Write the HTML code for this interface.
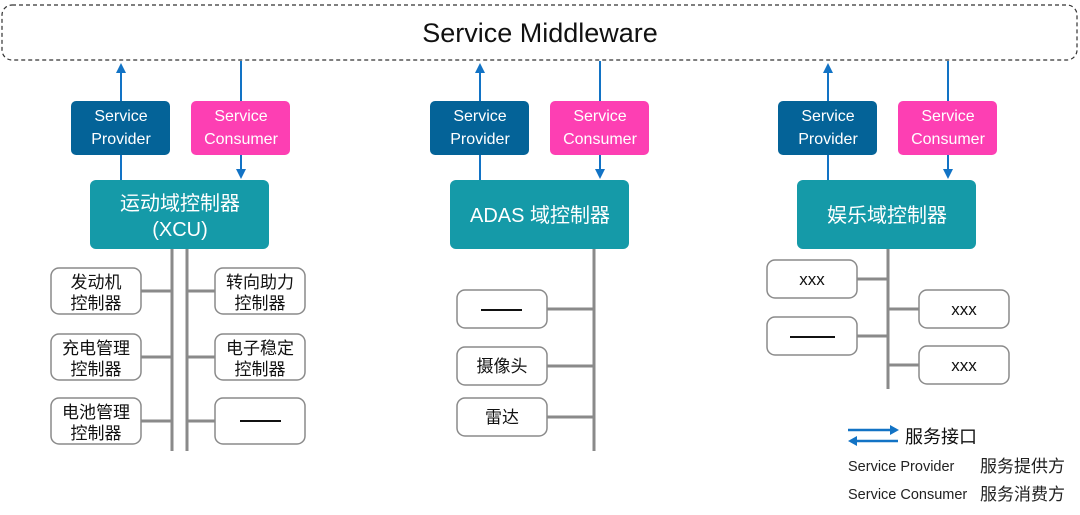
<!DOCTYPE html>
<html><head><meta charset="utf-8"><style>
html,body{margin:0;padding:0;background:#fff;width:1080px;height:515px;overflow:hidden}
text{font-family:"Liberation Sans","Noto Sans CJK SC",sans-serif}
</style></head><body>
<svg width="1080" height="515" viewBox="0 0 1080 515" xmlns="http://www.w3.org/2000/svg">
<defs>
<marker id="a" markerWidth="10" markerHeight="10" refX="5" refY="5" orient="auto" markerUnits="userSpaceOnUse"><path d="M0,0 L10,5 L0,10 z" fill="#1273c5"/></marker>
</defs>
<rect x="2" y="5" width="1075" height="55" rx="10" fill="#fff" stroke="#333" stroke-width="1.2" stroke-dasharray="4,3"/>
<text x="540" y="42" font-size="27" text-anchor="middle" fill="#111">Service Middleware</text>

<g stroke="#1273c5" stroke-width="2" fill="none">
<line x1="121" y1="101" x2="121" y2="68" marker-end="url(#a)"/><line x1="121" y1="155" x2="121" y2="180"/>
<line x1="241" y1="61" x2="241" y2="101"/><line x1="241" y1="155" x2="241" y2="174" marker-end="url(#a)"/>
<line x1="480" y1="101" x2="480" y2="68" marker-end="url(#a)"/><line x1="480" y1="155" x2="480" y2="180"/>
<line x1="600" y1="61" x2="600" y2="101"/><line x1="600" y1="155" x2="600" y2="174" marker-end="url(#a)"/>
<line x1="828" y1="101" x2="828" y2="68" marker-end="url(#a)"/><line x1="828" y1="155" x2="828" y2="180"/>
<line x1="948" y1="61" x2="948" y2="101"/><line x1="948" y1="155" x2="948" y2="174" marker-end="url(#a)"/>
</g>

<g font-size="16" fill="#fff" text-anchor="middle">
<rect x="71" y="101" width="99" height="54" rx="5" fill="#046398"/><text x="121" y="121">Service</text><text x="121" y="144">Provider</text>
<rect x="191" y="101" width="99" height="54" rx="5" fill="#fd3fb3"/><text x="241" y="121">Service</text><text x="241" y="144">Consumer</text>
<rect x="430" y="101" width="99" height="54" rx="5" fill="#046398"/><text x="480" y="121">Service</text><text x="480" y="144">Provider</text>
<rect x="550" y="101" width="99" height="54" rx="5" fill="#fd3fb3"/><text x="600" y="121">Service</text><text x="600" y="144">Consumer</text>
<rect x="778" y="101" width="99" height="54" rx="5" fill="#046398"/><text x="828" y="121">Service</text><text x="828" y="144">Provider</text>
<rect x="898" y="101" width="99" height="54" rx="5" fill="#fd3fb3"/><text x="948" y="121">Service</text><text x="948" y="144">Consumer</text>
</g>

<g fill="#159aa8">
<rect x="90" y="180" width="179" height="69" rx="6"/>
<rect x="450" y="180" width="179" height="69" rx="6"/>
<rect x="797" y="180" width="179" height="69" rx="6"/>
</g>
<g font-size="20" fill="#fff" text-anchor="middle">
<text x="180" y="210">运动域控制器</text><text x="180" y="236">(XCU)</text>
<text x="540" y="222">ADAS 域控制器</text>
<text x="887" y="222">娱乐域控制器</text>
</g>

<g stroke="#8a8a8a" stroke-width="3" fill="none">
<line x1="172" y1="249" x2="172" y2="451"/><line x1="187" y1="249" x2="187" y2="451"/>
<line x1="141" y1="291" x2="172" y2="291"/><line x1="141" y1="357" x2="172" y2="357"/><line x1="141" y1="421" x2="172" y2="421"/>
<line x1="187" y1="291" x2="215" y2="291"/><line x1="187" y1="357" x2="215" y2="357"/><line x1="187" y1="421" x2="215" y2="421"/>
<line x1="594" y1="249" x2="594" y2="451"/>
<line x1="547" y1="309" x2="594" y2="309"/><line x1="547" y1="366" x2="594" y2="366"/><line x1="547" y1="417" x2="594" y2="417"/>
<line x1="888" y1="249" x2="888" y2="389"/>
<line x1="857" y1="279" x2="888" y2="279"/><line x1="857" y1="336" x2="888" y2="336"/>
<line x1="888" y1="309" x2="919" y2="309"/><line x1="888" y1="365" x2="919" y2="365"/>
</g>

<g fill="#fff" stroke="#8a8a8a" stroke-width="1.5">
<rect x="51" y="268" width="90" height="46" rx="8"/><rect x="51" y="334" width="90" height="46" rx="8"/><rect x="51" y="398" width="90" height="46" rx="8"/>
<rect x="215" y="268" width="90" height="46" rx="8"/><rect x="215" y="334" width="90" height="46" rx="8"/><rect x="215" y="398" width="90" height="46" rx="8"/>
<rect x="457" y="290" width="90" height="38" rx="8"/><rect x="457" y="347" width="90" height="38" rx="8"/><rect x="457" y="398" width="90" height="38" rx="8"/>
<rect x="767" y="260" width="90" height="38" rx="8"/><rect x="767" y="317" width="90" height="38" rx="8"/>
<rect x="919" y="290" width="90" height="38" rx="8"/><rect x="919" y="346" width="90" height="38" rx="8"/>
</g>
<g font-size="17" fill="#111" text-anchor="middle">
<text x="96" y="288">发动机</text><text x="96" y="309">控制器</text>
<text x="96" y="354">充电管理</text><text x="96" y="375">控制器</text>
<text x="96" y="418">电池管理</text><text x="96" y="439">控制器</text>
<text x="260" y="288">转向助力</text><text x="260" y="309">控制器</text>
<text x="260" y="354">电子稳定</text><text x="260" y="375">控制器</text>
<text x="502" y="372">摄像头</text><text x="502" y="423">雷达</text>
<text x="812" y="285">xxx</text><text x="964" y="315">xxx</text><text x="964" y="371">xxx</text>
</g>
<g stroke="#111" stroke-width="2">
<line x1="240" y1="421" x2="281" y2="421"/>
<line x1="481" y1="310" x2="522" y2="310"/>
<line x1="790" y1="337" x2="835" y2="337"/>
</g>

<g stroke="#1273c5" stroke-width="2.5">
<line x1="848" y1="430" x2="892" y2="430"/><line x1="856" y1="441" x2="898" y2="441"/>
</g>
<path d="M890,425 L899,430 L890,435 z" fill="#1273c5"/>
<path d="M857,436 L848,441 L857,446 z" fill="#1273c5"/>
<text x="905" y="443" font-size="18" fill="#111">服务接口</text>
<text x="848" y="471" font-size="14.5" fill="#222">Service Provider</text>
<text x="980" y="472" font-size="17" fill="#222">服务提供方</text>
<text x="848" y="499" font-size="14.5" fill="#222">Service Consumer</text>
<text x="980" y="500" font-size="17" fill="#222">服务消费方</text>
</svg>
</body></html>
